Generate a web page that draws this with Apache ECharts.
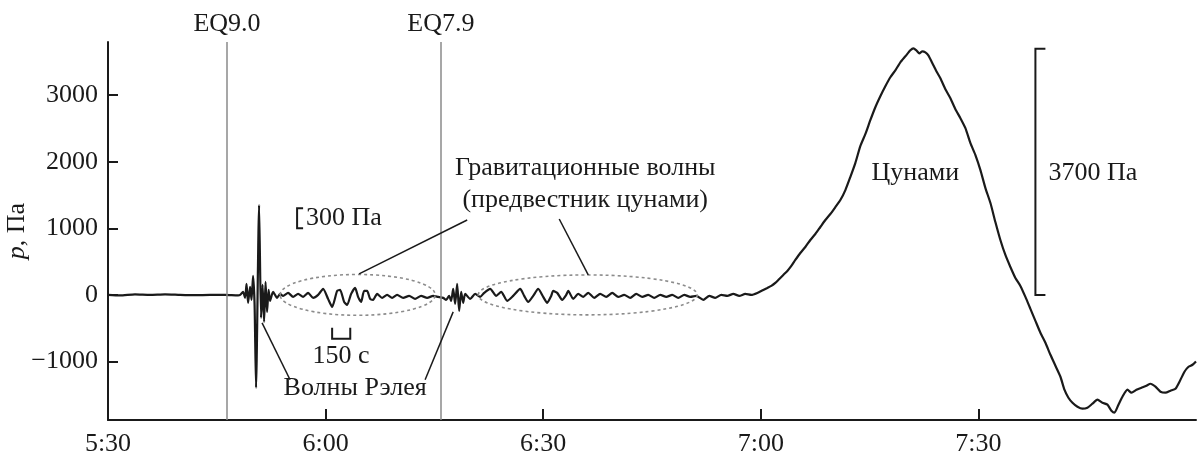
<!DOCTYPE html>
<html><head><meta charset="utf-8">
<script src="https://cdn.jsdelivr.net/npm/echarts@6/dist/echarts.min.js"></script>
<style>html,body{margin:0;padding:0;background:#fff}#c{width:1204px;height:459px}</style>
</head><body><div id="c"></div>
<script>
// time in minutes after 0:00 UTC, pressure in Pa
const xTickLabels=[330,360,390,420,450];
const xTickMarks=[360,390,420,450];
const yTicks=[-1000,0,1000,2000,3000];
const quakes=[{t:346.4,name:'EQ9.0'},{t:375.9,name:'EQ7.9'}];

const calm=[[330.00,0],[331.66,-8],[333.72,8],[335.79,0],[337.86,8],[339.93,0],[342.00,-5],[344.07,0],[346.14,0],[347.93,-8]];
const rayleigh=[[348.21,0],[348.62,45],[348.90,-45],[349.10,165],[349.31,-120],[349.59,120],[349.79,-75],[350.00,285],[350.21,-150],[350.41,-1395],[350.83,1350],[351.10,-345],[351.31,150],[351.52,-405],[351.72,195],[351.93,-255],[352.14,75],[352.34,-90],[352.76,45],[353.31,-45],[353.72,15]];
const gravity1=[[354.14,-15],[354.83,30],[355.52,-30],[356.21,15],[356.90,-30],[357.59,30],[358.28,-45],[358.97,0],[359.66,90],[360.34,-60],[360.90,-180],[361.59,60],[362.00,75],[362.55,-105],[362.97,-150],[363.52,15],[364.07,105],[364.48,-30],[364.90,-105],[365.31,60],[365.72,60],[366.14,-60],[366.55,-75],[367.10,15],[367.79,-45],[368.48,0],[369.17,-45],[369.86,0],[370.69,-45],[371.52,-15],[372.34,-60],[373.17,-15],[374.00,-45],[374.83,-15],[375.52,-30]];
const aftershock=[[376.21,-45],[376.62,-75],[377.03,-15],[377.31,-90],[377.59,90],[377.86,-135],[378.14,165],[378.41,-240],[378.69,45],[378.97,-120],[379.24,15],[379.93,-60],[380.62,15],[381.31,-30]];
const gravity2=[[381.86,30],[382.69,90],[383.52,-15],[384.21,45],[385.03,-90],[385.86,-15],[386.83,90],[387.38,-15],[387.93,-105],[388.62,-15],[389.31,90],[390.00,-30],[390.55,-120],[391.10,-15],[391.38,60],[391.93,30],[392.62,-75],[393.17,0],[393.45,60],[394.14,-60],[394.83,15],[395.52,-30],[396.21,30],[397.03,-45],[397.86,15],[398.69,-30],[399.52,30],[400.34,-30],[401.17,0],[402.00,-45],[402.83,15],[403.66,-30],[404.48,0],[405.31,-45],[406.14,0],[406.97,-30],[407.79,0],[408.62,-45],[409.45,0],[410.28,-30],[411.10,-15],[412.07,-75],[412.90,-15],[413.72,-45],[414.55,0],[415.38,-15],[416.21,15],[417.03,-15],[417.86,15],[418.69,0],[419.52,30]];
const tsunami=[[420.34,75],[420.90,105],[421.45,135],[422.00,180],[422.55,240],[423.10,300],[423.66,360],[424.21,435],[424.76,525],[425.45,630],[426.14,720],[426.83,825],[427.52,915],[428.21,1020],[428.90,1125],[429.59,1215],[430.28,1320],[430.97,1425],[431.66,1575],[432.34,1770],[433.03,1980],[433.72,2235],[434.41,2415],[435.10,2625],[435.79,2820],[436.48,2985],[437.17,3135],[437.86,3270],[438.55,3375],[439.24,3495],[439.93,3585],[440.62,3675],[441.03,3705],[441.45,3675],[441.86,3630],[442.28,3660],[442.69,3645],[443.10,3600],[443.66,3480],[444.21,3360],[444.76,3255],[445.45,3090],[446.14,2955],[446.83,2790],[447.52,2655],[448.21,2505],[448.90,2280],[449.59,2100],[450.28,1875],[450.97,1605],[451.66,1380],[452.34,1095],[453.03,825],[453.72,600],[454.41,420],[455.10,255],[455.79,135],[456.48,-30],[457.17,-210],[457.86,-390],[458.55,-570],[459.24,-720],[459.93,-900],[460.62,-1065],[461.31,-1230],[461.86,-1425],[462.41,-1545],[462.97,-1620],[463.66,-1680],[464.34,-1710],[465.03,-1695],[465.72,-1635],[466.41,-1575],[467.10,-1620],[467.79,-1650],[468.34,-1740],[468.76,-1770],[469.31,-1650],[469.86,-1530],[470.55,-1425],[471.10,-1470],[471.79,-1425],[472.48,-1395],[473.17,-1365],[473.72,-1335],[474.41,-1380],[475.10,-1455],[475.79,-1470],[476.48,-1440],[477.17,-1410],[477.86,-1275],[478.41,-1155],[478.97,-1080],[479.52,-1050],[480.00,-1000]];

const trace=[].concat(calm,rayleigh,gravity1,aftershock,gravity2,tsunami);
const FONT='"Liberation Serif","Times New Roman",serif';
const FS=26;
const INK='#1a1a1a';
const pad=n=>(n<10?'0':'')+n;

const chart=echarts.init(document.getElementById('c'));
chart.setOption({
  animation:false,
  backgroundColor:'#fff',
  grid:{left:108,right:8,top:42,bottom:39,containLabel:false,outerBoundsMode:'none'},
  xAxis:{type:'value',min:330,max:480,interval:30,
    axisLine:{onZero:false,lineStyle:{color:INK,width:2}},
    axisTick:{inside:true,length:11,lineStyle:{color:INK,width:2},customValues:xTickMarks},
    axisLabel:{customValues:xTickLabels,margin:11,fontSize:FS,fontFamily:FONT,color:INK,
      formatter:v=>Math.floor(v/60)+':'+pad(v%60)},
    splitLine:{show:false}},
  yAxis:{type:'value',min:-1880,max:3800,
    axisLine:{show:true,onZero:false,lineStyle:{color:INK,width:2}},
    axisTick:{show:true,inside:true,length:10,lineStyle:{color:INK,width:2},customValues:yTicks},
    axisLabel:{customValues:yTicks,margin:10,fontSize:FS,fontFamily:FONT,color:INK,
      formatter:v=>v<0?'\u2212'+(-v):String(v)},
    splitLine:{show:false},
    name:'{i|p}, Па',nameLocation:'middle',nameGap:78,nameRotate:90,nameMoveOverlap:false,
    nameTextStyle:{fontSize:FS,fontFamily:FONT,color:INK,rich:{i:{fontStyle:'italic',fontSize:FS,fontFamily:FONT,color:INK}}}},
  series:[{type:'line',data:trace,showSymbol:false,symbol:'none',smooth:0.2,
    lineStyle:{color:INK,width:2.2},z:3,
    markLine:{silent:true,symbol:['none','none'],animation:false,
      lineStyle:{color:'#8a8a8a',width:1.5,type:'solid'},
      label:{position:'end',distance:5,fontSize:FS,fontFamily:FONT,color:INK,formatter:p=>p.name},
      data:quakes.map(q=>({xAxis:q.t,name:q.name}))}}]
});

const P=(t,p)=>chart.convertToPixel({gridIndex:0},[t,p]);
const txt=(t,p,text,align)=>{const q=P(t,p);return{type:'text',z:10,style:{text:text,x:q[0],y:q[1],fill:INK,fontSize:FS,fontFamily:FONT,align:align||'center',verticalAlign:'middle'}};};
const seg=(a,b)=>{const A=P(a[0],a[1]),B=P(b[0],b[1]);return{type:'line',z:10,shape:{x1:A[0],y1:A[1],x2:B[0],y2:B[1]},style:{stroke:INK,lineWidth:1.5}};};
const ell=(t,p,rt,rp)=>{const c=P(t,p),e=P(t+rt,p+rp);return{type:'ellipse',z:9,shape:{cx:c[0],cy:c[1],rx:Math.abs(e[0]-c[0]),ry:Math.abs(c[1]-e[1])},style:{fill:'none',stroke:'#8c8c8c',lineWidth:1.6,lineDash:[3,3]}};};
const b37a=P(457.86,3700),b37b=P(457.86,0);
const b3a=P(356.07,1300),b3b=P(356.07,1000);
const b15a=P(360.9,-495),b15b=P(363.4,-660);
chart.setOption({graphic:[
  ell(364.41,0,10.69,307),
  ell(396.14,0,15.1,300),
  seg([379.52,1125],[364.62,315]),
  seg([392.21,1140],[396.21,300]),
  seg([355.10,-1275],[351.24,-420]),
  seg([373.72,-1275],[377.59,-255]),
  {type:'polyline',z:10,shape:{points:[[b37a[0]+10,b37a[1]],b37a,b37b,[b37b[0]+10,b37b[1]]]},style:{stroke:INK,lineWidth:2,fill:'none'}},
  {type:'polyline',z:10,shape:{points:[[b3a[0]+6,b3a[1]],b3a,b3b,[b3b[0]+6,b3b[1]]]},style:{stroke:INK,lineWidth:2,fill:'none'}},
  {type:'polyline',z:10,shape:{points:[[b15a[0],b15a[1]],[b15a[0],b15b[1]],[b15b[0],b15b[1]],[b15b[0],b15a[1]]]},style:{stroke:INK,lineWidth:2,fill:'none'}},
  txt(357.3,1150,'300 Па','left'),
  txt(362.14,-915,'150 с'),
  txt(364.07,-1395,'Волны Рэлея'),
  txt(395.79,1905,'Гравитационные волны'),
  txt(395.79,1425,'(предвестник цунами)'),
  txt(441.31,1830,'Цунами'),
  txt(459.66,1830,'3700 Па','left')
]});
</script></body></html>
